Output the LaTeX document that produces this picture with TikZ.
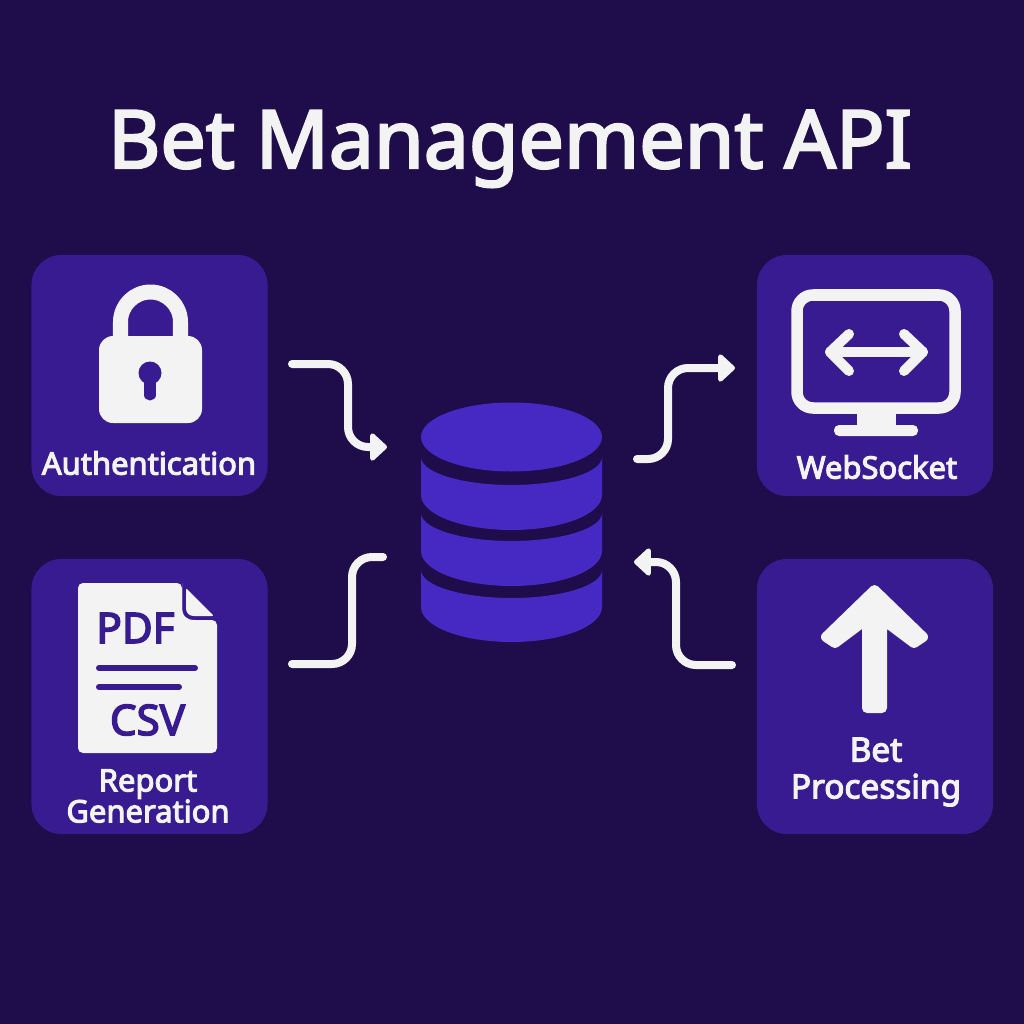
\documentclass[tikz,border=0pt]{standalone}
\usepackage{fontspec}
\setmainfont{Noto Sans}
\usetikzlibrary{arrows.meta}
\definecolor{bgdark}{HTML}{1F0C4B}
\definecolor{cardfill}{HTML}{381B90}
\definecolor{dbfill}{HTML}{4629C3}
\definecolor{iconwhite}{HTML}{F3F3F3}
\newfontfamily\labelfont[FakeBold=3.5]{Noto Sans}
\newfontfamily\titlefont[FakeBold=3]{Noto Sans}
\tikzset{
  >={Triangle[round,length=0.18cm,width=0.32cm,line width=0.06cm]},
  card/.style = {fill=cardfill,rounded corners=0.3cm,minimum width=2.36cm,inner sep=0pt},
  cardtext/.style = {text=iconwhite,font=\labelfont\fontsize{8.8}{8.8}\selectfont,align=center,inner sep=0pt},
  doctext/.style = {text=cardfill,font=\labelfont\fontsize{12}{12}\selectfont,inner sep=0pt},
  link/.style = {draw=iconwhite,line width=0.08cm,line cap=round,rounded corners=0.2cm},
  icon/.style = {fill=iconwhite},
  iconline/.style = {draw=iconwhite,line cap=round,line join=round}
}

\begin{document}
\begin{tikzpicture}[x=0.01cm,y=-0.01cm]
  \useasboundingbox[fill=bgdark] (0,0) rectangle (1024,1024);
  \node[text=iconwhite,font=\titlefont\fontsize{22.9}{24}\selectfont,inner sep=0pt,anchor=base] (title) at (510,168) {Bet Management API};

  % cards
  \node[card,minimum height=2.41cm] (auth) at (149.5,375.5) {};
  \node[card,minimum height=2.75cm] (report) at (149.5,696.5) {};
  \node[card,minimum height=2.41cm] (socket) at (875,375.5) {};
  \node[card,minimum height=2.75cm] (bets) at (875,696.5) {};
  \node[cardtext] (authtext) at (149,463) {Authentication};
  \node[cardtext] (reporttext) at (148,796) {Report\\Generation};
  \node[cardtext] (sockettext) at (877,467) {WebSocket};
  \node[cardtext,font=\labelfont\fontsize{9.5}{10.5}\selectfont] (betstext) at (876,772) {Bet\\Processing};

  % lock
  \draw[iconline,line width=0.15cm] (120.5,345) -- (120.5,322) arc[start angle=180,end angle=360,radius=30] -- (180.5,345);
  \fill[icon,rounded corners=0.14cm] (99,336) rectangle (202,423);
  \fill[cardfill] (150,373) circle[radius=11.5];
  \draw[cardfill,line width=0.11cm,line cap=round] (150,375) -- (150,395);

  % document
  \fill[icon,rounded corners=0.05cm] (78,583) -- (182,583) -- (182,620) -- (217,620) -- (217,753) -- (78,753) -- cycle;
  \fill[icon] (182,583) -- (182,606) .. controls (182,616) and (186,620) .. (195,620) -- (190,640) -- (182,640) -- cycle;
  \fill[icon,rounded corners=0.02cm] (186,588) -- (214,616) -- (196,616) .. controls (189,616) and (186,613) .. (186,606) -- cycle;
  \node[doctext] (pdf) at (135.5,628) {PDF};
  \node[doctext] (csv) at (147.5,720) {CSV};
  \draw[cardfill,line width=0.06cm,line cap=round] (99,668) -- (195,668);
  \draw[cardfill,line width=0.06cm,line cap=round] (99,687) -- (179,687);

  % monitor
  \draw[iconline,line width=0.115cm,rounded corners=0.16cm] (797,295) rectangle (955,408);
  \fill[icon] (857,412) rectangle (896,430);
  \fill[icon,rounded corners=0.05cm] (834,425) rectangle (918,436);
  \draw[iconline,line width=0.1cm] (830,352) -- (923,352);
  \draw[iconline,line width=0.1cm] (849,334) -- (830,352) -- (849,371);
  \draw[iconline,line width=0.1cm] (904,334) -- (923,352) -- (904,371);

  % up arrow
  \filldraw[icon,draw=iconwhite,line width=0.1cm,line join=round] (874.5,590) -- (923,637) -- (914,643) -- (882,619) -- (882,708) -- (867,708) -- (867,619) -- (835,643) -- (826,637) -- cycle;

  % database
  \foreach \segtop/\segbot in {457/495,513/551,570/607}
    \fill[dbfill] (421,\segtop) arc[start angle=180,end angle=0,x radius=90.5,y radius=28] -- (602,\segbot) arc[start angle=0,end angle=180,x radius=90.5,y radius=35] -- cycle;
  \fill[dbfill] (511.5,437) ellipse[x radius=90.5,y radius=34.5];

  % links
  \coordinate (authout) at (292,364);
  \coordinate (authin) at (387,447);
  \coordinate (reportout) at (292,664);
  \coordinate (reportin) at (383,557);
  \coordinate (socketout) at (735,368);
  \coordinate (socketin) at (637,459);
  \coordinate (betsout) at (732,665);
  \coordinate (betsin) at (634,562);
  \draw[link,->] (authout) -- (348,364) -- (348,447) -- (authin);
  \draw[link] (reportout) -- (352,664) -- (352,557) -- (reportin);
  \draw[link,->] (socketin) -- (668,459) -- (668,368) -- (socketout);
  \draw[link,->] (betsout) -- (676,665) -- (676,562) -- (betsin);
\end{tikzpicture}
\end{document}
